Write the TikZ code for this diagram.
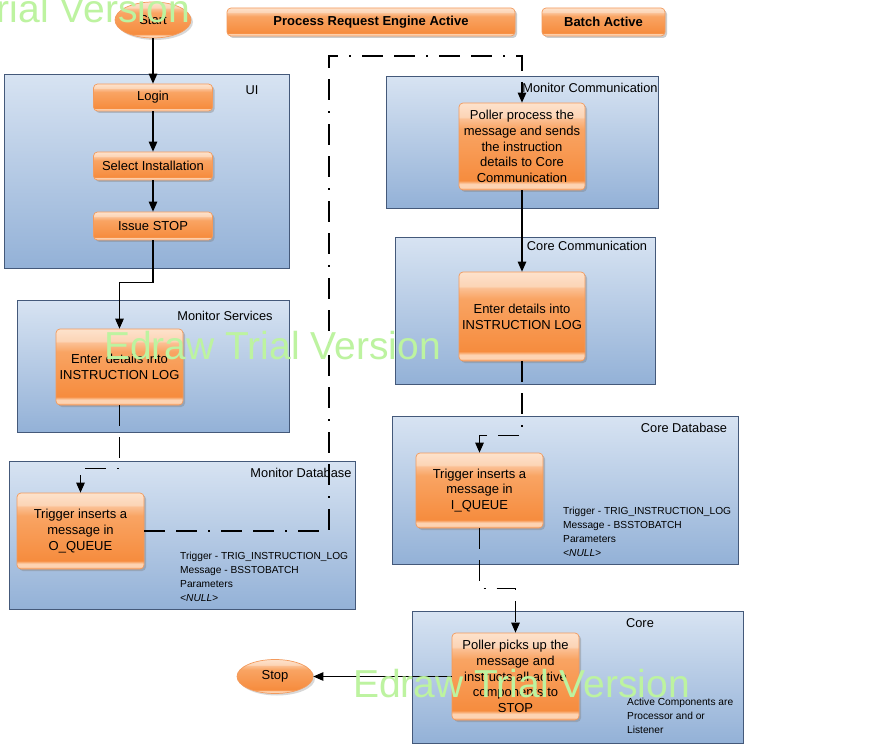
\documentclass[tikz,border=0pt]{standalone}
\usepackage{fontspec}
\setmainfont{Liberation Sans}
\usetikzlibrary{arrows.meta,shadows,shapes.geometric}
\definecolor{oTop}{HTML}{FDE2CC}
\definecolor{oT2}{HTML}{FBC094}
\definecolor{oM}{HTML}{F9A463}
\definecolor{oBot}{HTML}{F68C3E}
\definecolor{oBand}{HTML}{FDD3B2}
\definecolor{oEdge}{HTML}{F39A5C}
\definecolor{bT}{HTML}{D7E3F2}
\definecolor{bB}{HTML}{93B1D7}
\definecolor{bBorder}{HTML}{44597A}
\definecolor{wmGreen}{HTML}{BDF3A0}
\pgfdeclareverticalshading{orangegloss}{100bp}{color(0bp)=(oEdge); color(25bp)=(oEdge); color(26.5bp)=(oBand); color(28.5bp)=(oBand); color(30.5bp)=(oBot); color(60bp)=(oM); color(66bp)=(oT2); color(67bp)=(oTop!60!oT2); color(75bp)=(oTop); color(100bp)=(oTop)}
\pgfdeclareverticalshading{bluegrad}{100bp}{color(0bp)=(bB); color(25bp)=(bB); color(75bp)=(bT); color(100bp)=(bT)}
\begin{document}
\begin{tikzpicture}[x=1pt,y=1pt,
  cont/.style={draw=bBorder, line width=0.9pt, shading=bluegrad, anchor=north west, inner sep=0pt},
  obox/.style={draw=oEdge, line width=0.7pt, rounded corners=4pt, shading=orangegloss,
     drop shadow={shadow xshift=2pt, shadow yshift=-2pt, opacity=0.4},
     align=center, font=\fontsize{13}{15.8}\selectfont, inner sep=2pt},
  oell/.style={draw=oEdge, line width=0.7pt, ellipse, shading=orangegloss,
     drop shadow={shadow xshift=2pt, shadow yshift=-2pt, opacity=0.3},
     font=\fontsize{13}{15}\selectfont, inner sep=0pt},
  clabel/.style={font=\fontsize{12.8}{14}\selectfont, inner sep=0pt},
  ann/.style={font=\fontsize{10.2}{14}\selectfont, align=left, anchor=north west, inner sep=0pt},
  flow/.style={line width=1.1pt, -{Triangle[length=10pt,width=8.5pt]}},
  dd/.style={dash pattern=on 21pt off 11pt on 21pt off 11pt on 2pt off 11pt},
  wm/.style={font=\fontsize{39}{40}\selectfont, text=wmGreen, inner sep=0pt}
]
\useasboundingbox (0,0) rectangle (876,-746);
\clip (0,0) rectangle (876,-746);
\fill[white] (0,0) rectangle (876,-746);

% containers
\node[cont, minimum width=285, minimum height=194] (ui) at (4,-74) {};
\node[cont, minimum width=272, minimum height=132] (ms) at (17,-300) {};
\node[cont, minimum width=346, minimum height=148] (md) at (9,-461) {};
\node[cont, minimum width=272, minimum height=132] (mc) at (386,-76) {};
\node[cont, minimum width=260, minimum height=147] (cc) at (395,-237) {};
\node[cont, minimum width=346, minimum height=148] (cd) at (392,-416) {};
\node[cont, minimum width=331, minimum height=132] (core) at (412,-611) {};

% container labels
\node[clabel] (lui) at (252,-90) {UI};
\node[clabel] (lms) at (225,-316) {Monitor Services};
\node[clabel] (lmd) at (301,-473) {Monitor Database};
\node[clabel] (lmc) at (590,-88) {Monitor Communication};
\node[clabel] (lcc) at (587,-246) {Core Communication};
\node[clabel] (lcd) at (684,-428) {Core Database};
\node[clabel] (lcore) at (640,-623) {Core};

% annotations
\node[ann] (amd) at (180,-552) {Trigger - TRIG\_INSTRUCTION\_LOG\\Message - BSSTOBATCH\\Parameters\\\textit{<NULL>}};
\node[ann] (acd) at (563,-507) {Trigger - TRIG\_INSTRUCTION\_LOG\\Message - BSSTOBATCH\\Parameters\\\textit{<NULL>}};
\node[ann] (acore) at (627,-698) {Active Components are\\Processor and or\\Listener};

% title boxes
\node[obox, minimum width=288, minimum height=28, font=\fontsize{13}{15}\selectfont\bfseries] (pre) at (371,-22) {Process Request Engine Active};
\node[obox, minimum width=123, minimum height=28, font=\fontsize{13}{15}\selectfont\bfseries] (ba) at (603.5,-22) {Batch Active};

% coordinates for connector bends
\coordinate (j1) at (329,-56);

% process boxes
\node[oell, minimum width=76, minimum height=36] (start) at (153,-20) {Start};
\node[obox, minimum width=119, minimum height=27] (login) at (153,-97.5) {Login};
\node[obox, minimum width=119, minimum height=28] (select) at (153,-166) {Select Installation};
\node[obox, minimum width=119, minimum height=28] (issue) at (153,-226) {Issue STOP};
\node[obox, minimum width=127, minimum height=76] (msEnter) at (119.5,-367) {Enter details into\\INSTRUCTION LOG};
\node[obox, minimum width=127, minimum height=76] (mdTrig) at (80.5,-531) {Trigger inserts a\\message in\\O\_QUEUE};
\node[obox, minimum width=126, minimum height=87] (mcPoll) at (522,-146.5) {Poller process the\\message and sends\\the instruction\\details to Core\\Communication};
\node[obox, minimum width=126, minimum height=89] (ccEnter) at (522,-316.5) {Enter details into\\INSTRUCTION LOG};
\node[obox, minimum width=127, minimum height=75] (cdTrig) at (479.5,-490.5) {Trigger inserts a\\message in\\I\_QUEUE};
\node[obox, minimum width=127, minimum height=87] (corePoll) at (515.5,-676.5) {Poller picks up the\\message and\\instructs all active\\components to\\STOP};
\node[oell, minimum width=76, minimum height=34] (stop) at (275,-676.5) {Stop};

% connectors
\draw[flow] (start) -- (login);
\draw[flow] (login) -- (select);
\draw[flow] (select) -- (issue);
\draw[flow] (issue.south) -- ++(0,-42) -| (msEnter.north);
\draw[flow,dd] (msEnter.south) -- ++(0,-63) -| (mdTrig.north);
\draw[flow,dd] (mdTrig.east) -| (j1) -| (mcPoll.north);
\draw[flow] (mcPoll.south) -- (ccEnter.north);
\draw[flow,dd] (ccEnter.south) -- ++(0,-74) -| (cdTrig.north);
\draw[flow,dd] (cdTrig.south) -- ++(0,-60) -| (corePoll.north);
\draw[flow] (corePoll.west) -- (stop.east);

% watermarks
\node[wm, anchor=base east] (wm1) at (190,-23) {Edraw Trial Version};
\node[wm, anchor=base west] (wm2) at (104,-359) {Edraw Trial Version};
\node[wm, anchor=base west] (wm3) at (353,-697) {Edraw Trial Version};
\end{tikzpicture}
\end{document}
